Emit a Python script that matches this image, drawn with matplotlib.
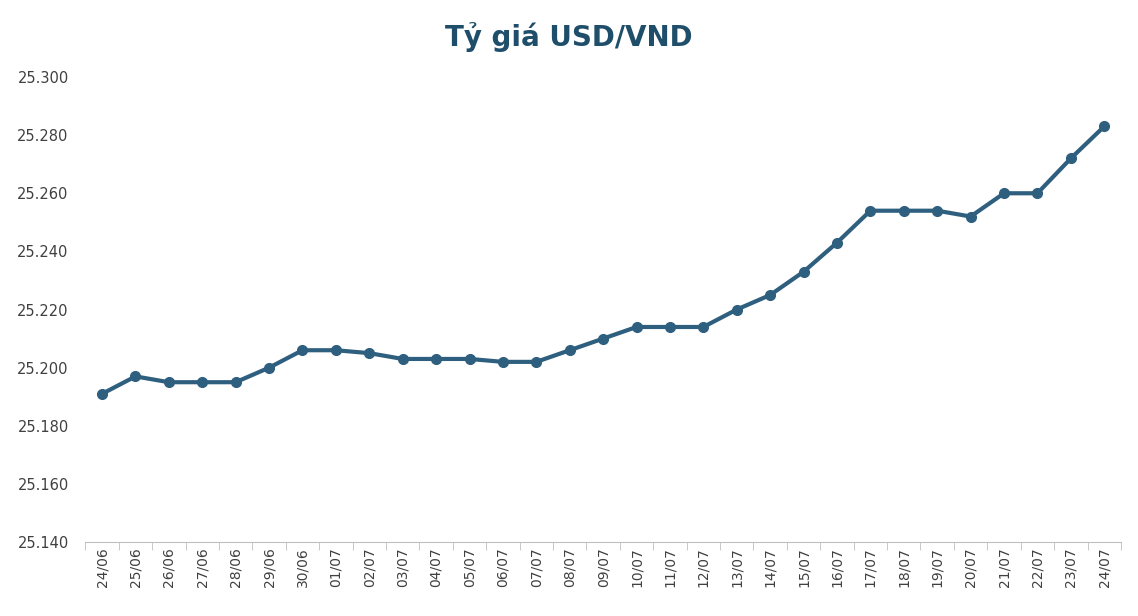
import matplotlib
matplotlib.use("Agg")
import matplotlib.pyplot as plt
from matplotlib.ticker import FuncFormatter, FixedLocator

dates = ["24/06", "25/06", "26/06", "27/06", "28/06", "29/06", "30/06", "01/07",
         "02/07", "03/07", "04/07", "05/07", "06/07", "07/07", "08/07", "09/07",
         "10/07", "11/07", "12/07", "13/07", "14/07", "15/07", "16/07", "17/07",
         "18/07", "19/07", "20/07", "21/07", "22/07", "23/07", "24/07"]
rates = [25191, 25197, 25195, 25195, 25195, 25200, 25206, 25206,
         25205, 25203, 25203, 25203, 25202, 25202, 25206, 25210,
         25214, 25214, 25214, 25220, 25225, 25233, 25243, 25254,
         25254, 25254, 25252, 25260, 25260, 25272, 25283]

color = "#2F5F7F"
fig, ax = plt.subplots(figsize=(11.38, 6.16), dpi=100)
fig.subplots_adjust(left=0.075, right=0.985, top=0.875, bottom=0.12)

x = range(len(dates))
ax.plot(x, rates, color=color, lw=3, marker="o", ms=7)

ax.set_ylim(25140, 25300)
ax.set_yticks(range(25140, 25301, 20))
ax.yaxis.set_major_formatter(FuncFormatter(lambda v, p: f"{v / 1000:.3f}"))
ax.set_xlim(-0.5, len(dates) - 0.5)
ax.set_xticks(list(x))
ax.set_xticklabels(dates, rotation=90)
ax.xaxis.set_minor_locator(FixedLocator([i - 0.5 for i in range(len(dates) + 1)]))
ax.tick_params(axis="x", which="major", length=0, labelsize=10, colors="#404040")
ax.tick_params(axis="x", which="minor", length=6, color="#BFBFBF")
ax.tick_params(axis="y", length=0, labelsize=10.5, colors="#404040", pad=12)
for s in ["top", "right", "left"]:
    ax.spines[s].set_visible(False)
ax.spines["bottom"].set_color("#BFBFBF")

fig.suptitle("Tỷ giá USD/VND", fontsize=20, fontweight="bold", color="#1F4E6B", y=0.965)
fig.savefig("out.png", dpi=100)
